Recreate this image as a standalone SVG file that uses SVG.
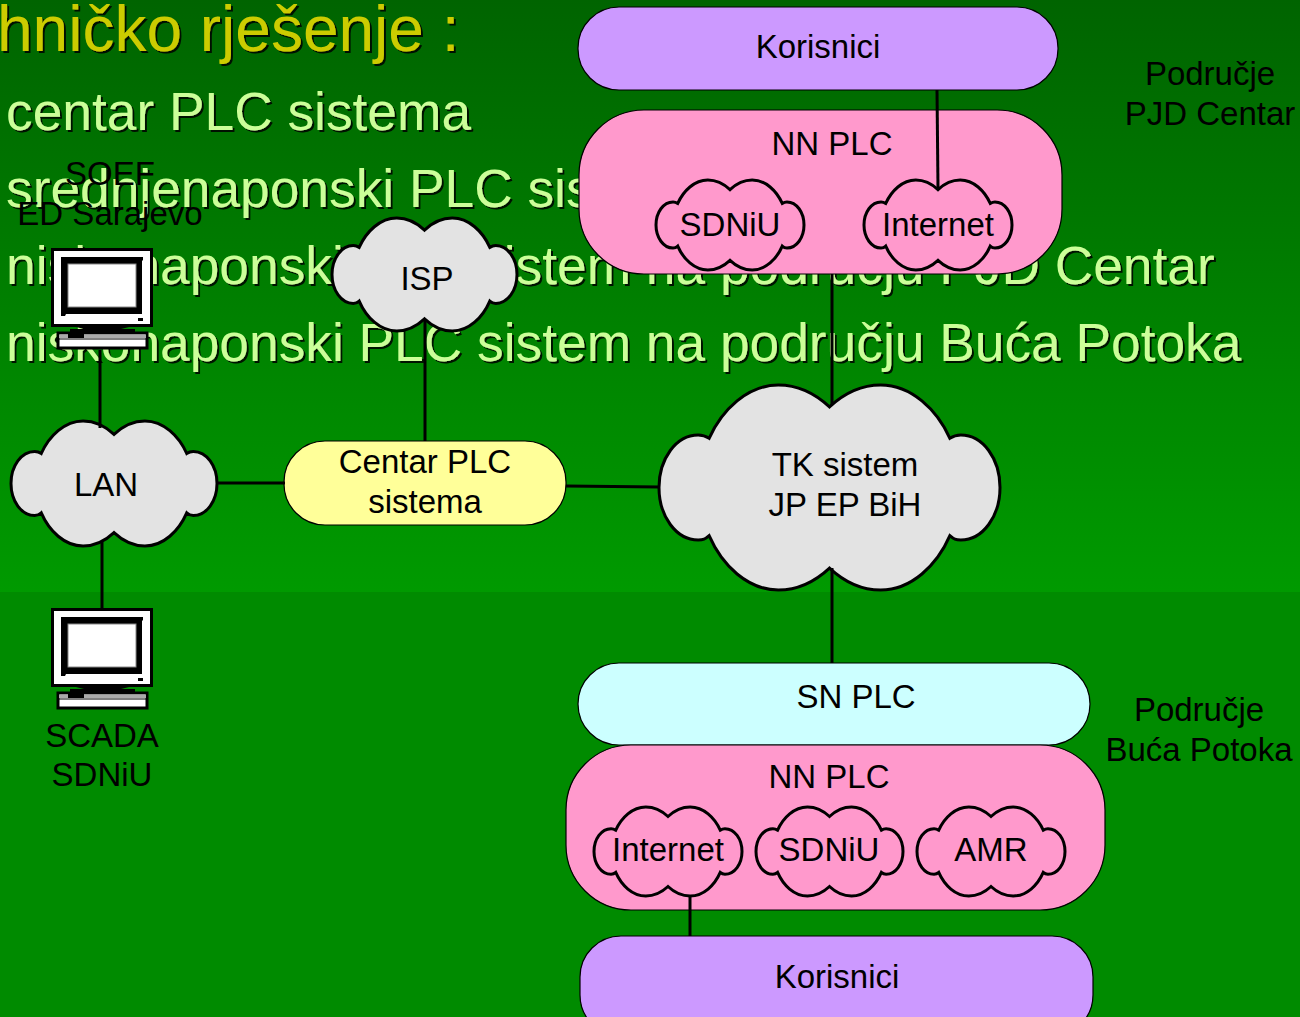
<svg xmlns="http://www.w3.org/2000/svg" width="1300" height="1017" viewBox="0 0 1300 1017">
<style>
text{font-family:"Liberation Sans",Arial,sans-serif}
.l{font-size:33px;fill:#000;text-anchor:middle}
.h{font-size:64px;fill:#cccc00}
.b{font-size:53.3px;fill:#ccff99}
.box{stroke:#000;stroke-width:1.2}
#cloud{stroke:#000;stroke-width:3;vector-effect:non-scaling-stroke}
.cl{fill:#e3e3e3}
.cp{fill:#ff99cc}
.pk{fill:#ff99cc}
.c{stroke:#000;stroke-width:3;fill:none}
</style>
<defs>
<linearGradient id="bg" x1="0" y1="0" x2="0" y2="1"><stop offset="0" stop-color="#006400"/><stop offset="1" stop-color="#009a00"/></linearGradient>
<filter id="sh" x="-5%" y="-5%" width="110%" height="110%"><feDropShadow dx="2" dy="2" stdDeviation="0.4" flood-color="#000" flood-opacity="0.85"/></filter>
<path id="cloud" d="M50 10.7C46 4.500 41 0 35 0C26 0 18.500 12 14.700 26C13.500 24.700 13 24.400 11.500 24.400C5 24.400 0 36 0 50C0 64 5 75.600 11.500 75.600C13 75.600 13.500 75.300 14.700 73.500C18.500 88 26 100 35 100C41 100 46 95.500 50 89.300C54 95.500 59 100 65 100C74 100 81.500 88 85.300 73.500C86.500 75.300 87 75.600 88.500 75.600C95 75.600 100 64 100 50C100 36 95 24.400 88.500 24.400C87 24.400 86.500 24.700 85.300 26C81.500 12 74 0 65 0C59 0 54 4.500 50 10.700Z"/>
<g id="pc">
<rect x="1.500" y="1.500" width="99" height="76" fill="#fff" stroke="#000" stroke-width="3"/>
<path d="M10 9H92V12L91 13V66H15L14 68H10Z" fill="#000"/>
<rect x="17" y="16" width="68" height="43" fill="#fff" stroke="#888" stroke-width="1"/>
<rect x="87" y="70" width="5" height="3" fill="#000"/>
<path d="M25 79H78L70 81H84V86H19V81H33Z" fill="#000"/>
<rect x="7" y="85" width="89" height="15" fill="#fff" stroke="#000" stroke-width="3"/>
<rect x="8" y="86.500" width="87" height="3.500" fill="#aaa"/>
<rect x="17" y="86" width="16" height="4" fill="#000"/>
<rect x="8" y="90.500" width="87" height="1" fill="#000"/>
</g>
</defs>
<rect width="1300" height="592" fill="url(#bg)"/>
<rect y="592" width="1300" height="425" fill="#008b00"/>
<g id="slide-text" filter="url(#sh)">
<text class="h" x="-3" y="51">hničko rješenje :</text>
<text class="b" x="6" y="130">centar PLC sistema</text>
<text class="b" x="6" y="207">srednjenaponski PLC sistem</text>
<text class="b" x="6" y="284">niskonaponski PLC sistem na području PJD Centar</text>
<text class="b" x="6" y="361">niskonaponski PLC sistem na području Buća Potoka</text>
</g>
<g id="soef"><text class="l" x="110" y="185">SOEF</text><text class="l" x="110" y="225">ED Sarajevo</text></g>
<g id="pc1"><use href="#pc" x="51" y="248"/></g>
<g id="pc2"><use href="#pc" x="51" y="608"/><text class="l" x="102" y="747">SCADA</text><text class="l" x="102" y="786">SDNiU</text></g>
<g id="korisnici1"><rect class="box" x="578" y="7" width="480" height="83" rx="41" fill="#cc99ff"/><text class="l" x="818" y="58">Korisnici</text></g>
<g id="nn1"><rect class="box pk" x="579" y="110" width="483" height="164" rx="65"/><text class="l" x="832" y="155">NN PLC</text></g>
<g id="sdniu1"><use href="#cloud" class="cp" transform="translate(656 180) scale(1.48 .9)"/><text class="l" x="730" y="236">SDNiU</text></g>
<g id="internet1"><use href="#cloud" class="cp" transform="translate(864 180) scale(1.48 .9)"/><text class="l" x="938" y="236">Internet</text></g>
<g id="podrucje1"><text class="l" x="1210" y="85">Područje</text><text class="l" x="1210" y="125">PJD Centar</text></g>
<g id="isp"><use href="#cloud" class="cl" transform="translate(332 218) scale(1.85 1.13)"/><text class="l" x="427" y="290">ISP</text></g>
<g id="lan"><use href="#cloud" class="cl" transform="translate(11 421) scale(2.06 1.25)"/><text class="l" x="106" y="496">LAN</text></g>
<g id="centar"><rect class="box" x="284" y="441" width="282" height="84" rx="41" fill="#ffff99"/><text class="l" x="425" y="473">Centar PLC</text><text class="l" x="425" y="513">sistema</text></g>
<g id="tk"><use href="#cloud" class="cl" transform="translate(659 385) scale(3.41 2.05)"/><text class="l" x="845" y="476">TK sistem</text><text class="l" x="845" y="516">JP EP BiH</text></g>
<g id="sn"><rect class="box" x="578" y="663" width="512" height="82" rx="41" fill="#ccffff"/><text class="l" x="856" y="708">SN PLC</text></g>
<g id="nn2"><rect class="box pk" x="566" y="745" width="539" height="165" rx="65"/><text class="l" x="829" y="788">NN PLC</text></g>
<g id="internet2"><use href="#cloud" class="cp" transform="translate(594 807) scale(1.48 .89)"/><text class="l" x="668" y="861">Internet</text></g>
<g id="sdniu2"><use href="#cloud" class="cp" transform="translate(756 807) scale(1.47 .89)"/><text class="l" x="829" y="861">SDNiU</text></g>
<g id="amr"><use href="#cloud" class="cp" transform="translate(917 807) scale(1.48 .89)"/><text class="l" x="991" y="861">AMR</text></g>
<g id="podrucje2"><text class="l" x="1199" y="721">Područje</text><text class="l" x="1199" y="761">Buća Potoka</text></g>
<g id="korisnici2"><rect class="box" x="580" y="936" width="513" height="100" rx="41" fill="#cc99ff"/><text class="l" x="837" y="988">Korisnici</text></g>
<g id="connectors">
<path class="c" d="M937 90L938 188"/>
<path class="c" d="M832 274V405"/>
<path class="c" d="M832 568V663"/>
<path class="c" d="M425 320V441"/>
<path class="c" d="M100 350V428"/>
<path class="c" d="M102 541V608"/>
<path class="c" d="M217 483H285"/>
<path class="c" d="M566 486L660 487"/>
<path class="c" d="M690 895V936"/>
</g>
</svg>
